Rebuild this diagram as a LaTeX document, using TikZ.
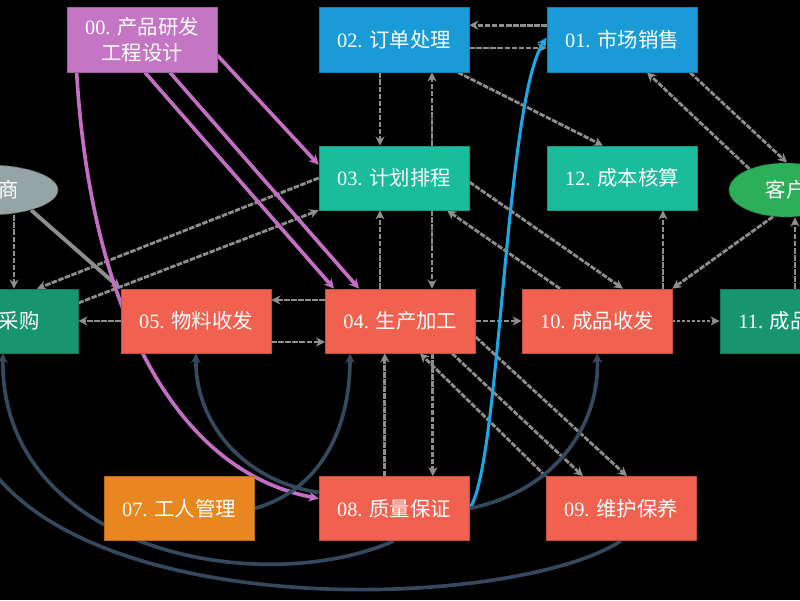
\documentclass[tikz,border=0pt]{standalone}
\usepackage{fontspec}
\setmainfont{Liberation Serif}
\newfontfamily\cjk{Noto Sans CJK SC}
\usetikzlibrary{arrows.meta,shapes.geometric,backgrounds}

\definecolor{pinkbox}{HTML}{C475C4}
\definecolor{bluebox}{HTML}{1A9BD7}
\definecolor{tealbox}{HTML}{1ABC9C}
\definecolor{redbox}{HTML}{F1614F}
\definecolor{greenbox}{HTML}{17956F}
\definecolor{orangebox}{HTML}{E8861F}
\definecolor{greyell}{HTML}{95A5A6}
\definecolor{greenell}{HTML}{2DAE59}
\definecolor{navyline}{HTML}{34495E}
\definecolor{greyline}{HTML}{8E8E8E}
\definecolor{blueline}{HTML}{1AA8E6}
\definecolor{pinkline}{HTML}{C46FC4}

\tikzset{
	procbox/.style={rectangle, fill=#1, draw=#1!80!black, line width=0.5pt, minimum width=3.75cm, minimum height=1.6cm, inner sep=0pt, text=white, align=center, font=\fontsize{14.5}{18}\selectfont},
	endell/.style={ellipse, fill=#1, draw=#1!60!black, dashed, line width=0.6pt, inner sep=0pt, text=white, font=\fontsize{14.5}{18}\selectfont},
	flow/.style={draw=greyline, line width=2pt, dash pattern=on 4pt off 1pt, -{Stealth[length=6.5pt,width=6.5pt]}},
	thickflow/.style={draw=greyline, line width=2.8pt, -{Stealth[length=7pt,width=7pt]}},
	pinkflow/.style={draw=pinkline, line width=2.6pt, -{Stealth[length=7pt,width=7pt]}},
	blueflow/.style={draw=blueline, line width=2.2pt, -{Stealth[length=7pt,width=7pt]}},
	navyflow/.style={draw=navyline, line width=2.6pt, -{Stealth[length=7pt,width=7pt]}}
}

\begin{document}
\begin{tikzpicture}
			%%%%% START %%%%%
			
			\useasboundingbox (0, 0) rectangle (20, 15);
			
			\node[procbox=pinkbox, minimum height=1.625cm] (yanfa) at (3.55, 14.01) {00. {\cjk 产品研发}\\{\cjk 工程设计}};
			\node[procbox=bluebox, minimum height=1.625cm] (dingdan) at (9.85, 14.01) {02. {\cjk 订单处理}};
			\node[procbox=bluebox, minimum height=1.625cm] (xiaoshou) at (15.55, 14.01) {01. {\cjk 市场销售}};
			
			\node[procbox=tealbox] (jihua) at (9.85, 10.55) {03. {\cjk 计划排程}};
			\node[procbox=tealbox] (chengben) at (15.55, 10.55) {12. {\cjk 成本核算}};
			\node[endell=greyell, minimum width=3.5cm, minimum height=1.25cm] (gongying) at (-0.3, 10.25) {\cjk 供应商};
			\node[endell=greenell, minimum width=2.85cm, minimum height=1.35cm] (kehu) at (19.65, 10.25) {\cjk 客户};
			
			\node[procbox=greenbox] (caigou) at (0.075, 6.975) {06. {\cjk 采购}};
			\node[procbox=redbox] (wuliao) at (4.9, 6.975) {05. {\cjk 物料收发}};
			\node[procbox=redbox] (shengchan) at (10.01, 6.975) {04. {\cjk 生产加工}};
			\node[procbox=redbox] (chengpin) at (14.925, 6.975) {10. {\cjk 成品收发}};
			\node[procbox=greenbox] (kucun) at (19.875, 6.975) {11. {\cjk 成品仓库}};
			
			\node[procbox=orangebox] (gongren) at (4.475, 2.2875) {07. {\cjk 工人管理}};
			\node[procbox=redbox] (zhiliang) at (9.85, 2.2875) {08. {\cjk 质量保证}};
			\node[procbox=redbox] (weihu) at (15.525, 2.2875) {09. {\cjk 维护保养}};
			
			\begin{scope}[on background layer]
			\fill[black] (0, 0) rectangle (20, 15);
			
			% orders, planning, sales
			\draw[flow] ([yshift=0.36cm]xiaoshou.west) -- ([yshift=0.36cm]dingdan.east);
			\draw[flow] ([yshift=-0.21cm]dingdan.east) -- ([yshift=-0.21cm]xiaoshou.west);
			\draw[flow] ([xshift=-0.35cm]dingdan.south) -- ([xshift=-0.35cm]jihua.north);
			\draw[flow] ([xshift=0.95cm]jihua.north) -- ([xshift=0.95cm]dingdan.south);
			\draw[flow] ([xshift=1.6cm]dingdan.south) -- ([xshift=-0.475cm]chengben.north);
			\draw[flow] (kehu.150) -- ([xshift=0.625cm]xiaoshou.south);
			\draw[flow] ([xshift=1.7cm]xiaoshou.south) -- (kehu.88);
			\draw[flow] ([xshift=1.65cm]chengpin.north) -- ([xshift=1.65cm]chengpin.north |- chengben.south);
			\draw[flow] (kehu.244) -- (chengpin.north east);
			\draw[flow] (kucun.north) -- (kucun.north |- kehu.south);
			\draw[flow] ([yshift=-0.1cm]jihua.east) -- ([xshift=0.65cm]chengpin.north);
			\draw[flow] ([xshift=-0.925cm]chengpin.north) -- ([xshift=1.325cm]jihua.south);
			\draw[flow] ([xshift=-0.51cm]shengchan.north) -- ([xshift=-0.51cm]shengchan.north |- jihua.south);
			\draw[flow] ([xshift=0.95cm]jihua.south) -- ([xshift=0.95cm]jihua.south |- shengchan.north);
			\draw[flow] (jihua.west) -- ([xshift=0.85cm]caigou.north);
			\draw[flow] ([yshift=0.45cm]caigou.east) -- (jihua.south west);
			
			% purchase and materials
			\draw[flow] ([xshift=0.275cm]caigou.north |- gongying.south) -- ([xshift=0.275cm]caigou.north);
			\draw[thickflow] (gongying.335) -- (wuliao.north west);
			\draw[flow] (wuliao.west) -- (caigou.east);
			\draw[flow] ([yshift=0.525cm]shengchan.west) -- ([yshift=0.525cm]wuliao.east);
			\draw[flow] ([yshift=-0.525cm]wuliao.east) -- ([yshift=-0.525cm]shengchan.west);
			
			% production
			\draw[flow] (shengchan.east) -- (chengpin.west);
			\draw[flow, dash pattern=on 2pt off 1.5pt] (chengpin.east) -- (kucun.west);
			\draw[flow] ([xshift=0.81cm]shengchan.south) -- ([xshift=0.81cm]shengchan.south |- zhiliang.north);
			\draw[flow] ([xshift=-0.39cm]shengchan.south |- zhiliang.north) -- ([xshift=-0.39cm]shengchan.south);
			\draw[flow] (weihu.north west) -- ([xshift=0.49cm]shengchan.south);
			\draw[flow] ([xshift=1.29cm]shengchan.south) -- ([xshift=-0.95cm]weihu.north);
			\draw[flow] ([yshift=-0.4cm]shengchan.east) -- ([xshift=0.15cm]weihu.north);
			
			% design
			\draw[pinkflow] ([yshift=-0.39cm]yanfa.east) -- ([yshift=0.33cm]jihua.west);
			\draw[pinkflow] ([xshift=0.075cm]yanfa.south) -- ([xshift=0.225cm]shengchan.north west);
			\draw[pinkflow] ([xshift=0.7cm]yanfa.south) -- ([xshift=0.85cm]shengchan.north west);
			\draw[pinkflow] ([xshift=0.25cm]yanfa.south west) .. controls (2.25, 7.5) and (4.25, 3.25) .. ([yshift=0.25cm]zhiliang.west);
			
			% quality feedback
			\draw[blueflow] (zhiliang.east) .. controls (12.5, 3.25) and (12.625, 12.5) .. ([yshift=0.05cm]xiaoshou.west);
			\draw[navyflow] (zhiliang.east) .. controls (14, 2.75) and (15, 4.5) .. (chengpin.south);
			\draw[navyflow] ([yshift=0.4cm]zhiliang.west) .. controls (6, 3) and (4.875, 4.5) .. (wuliao.south);
			\draw[navyflow] (gongren.east) .. controls (8, 2.75) and (8.75, 4.25) .. ([xshift=-1.26cm]shengchan.south);
			\draw[navyflow] (zhiliang.south) .. controls (6.5, 0) and (0, 1.25) .. (caigou.south);
			\draw[navyflow] (weihu.south) .. controls (12.5, -0.5) and (-1.5, -0.75) .. ([xshift=-1.075cm]caigou.south);
			\end{scope}
			
			%%%%% END %%%%%
\end{tikzpicture}
\end{document}
